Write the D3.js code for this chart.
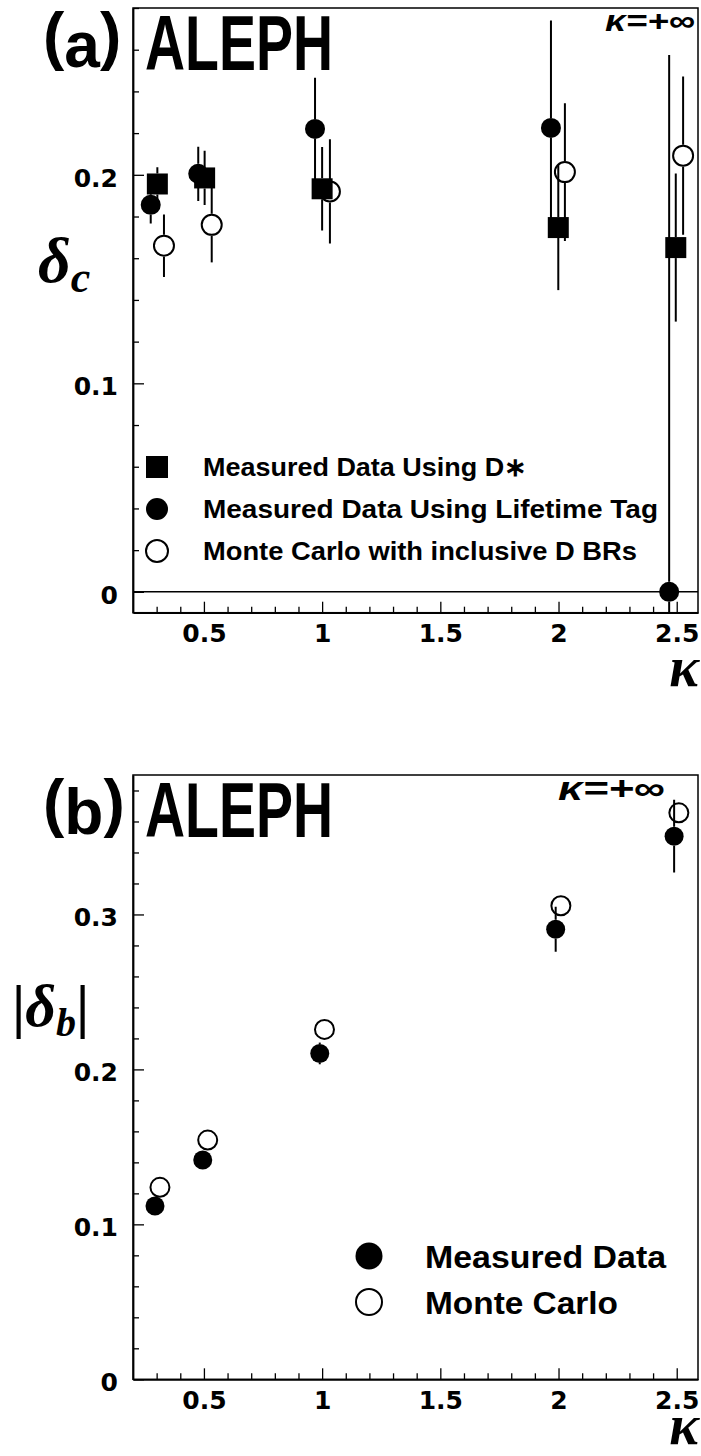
<!DOCTYPE html>
<html><head><meta charset="utf-8">
<script src="https://cdn.jsdelivr.net/npm/d3@7"></script>
<style>body{margin:0;background:#fff} svg{display:block}</style>
</head><body>
<svg id="c" width="701" height="1456"></svg>
<script>
// ---------- data ----------
const kappaMajor = [0.5, 1, 1.5, 2, 2.5];
const kappaLabels = ["0.5", "1", "1.5", "2", "2.5"];
// (a) delta_c
const dstarX   = [0.303, 0.503, 1.000, 1.999, 2.496];
const dstarY   = [0.1956, 0.1985, 0.1933, 0.1747, 0.1651];
const dstarErr = [0.008, 0.013, 0.020, 0.030, 0.0355];
const lifeX    = [0.275, 0.476, 0.970, 1.968, 2.468];
const lifeY    = [0.1856, 0.2005, 0.2220, 0.2225, 0.0];
const lifeErr  = [0.009, 0.013, 0.0245, 0.0515, 0.2575];
const mcaX     = [0.331, 0.533, 1.033, 2.027, 2.527];
const mcaY     = [0.166, 0.176, 0.192, 0.2013, 0.2092];
const mcaErr   = [0.015, 0.018, 0.025, 0.033, 0.038];
const yTicksA  = [0, 0.1, 0.2];
const yLabelsA = ["0", "0.1", "0.2"];
// (b) |delta_b|
const measX    = [0.293, 0.495, 0.990, 1.988, 2.489];
const measY    = [0.1118, 0.1415, 0.2103, 0.2905, 0.3505];
const measErr  = [0.003, 0.003, 0.007, 0.0145, 0.0235];
const mcbX     = [0.314, 0.516, 1.010, 2.010, 2.509];
const mcbY     = [0.1239, 0.1544, 0.2258, 0.3056, 0.3656];
const mcbErr   = [0.0, 0.0, 0.0, 0.0, 0.0];
const yTicksB  = [0, 0.1, 0.2, 0.3];
const yLabelsB = ["0", "0.1", "0.2", "0.3"];
const legendA  = ["Measured Data Using D\u2217", "Measured Data Using Lifetime Tag", "Monte Carlo with inclusive D BRs"];
const legendB  = ["Measured Data", "Monte Carlo"];

// ---------- drawing ----------
const svg = d3.select("#c");
const x = d3.scaleLinear().domain([0.2, 2.59]).range([133, 698]);
const SANS = "'Liberation Sans', Arial, sans-serif";
const TICKF = "'DejaVu Sans', sans-serif";
const SERIF = "'Liberation Serif', 'Times New Roman', serif";

function zip(xs, ys, es) { return xs.map((v, i) => ({x: v, y: ys[i], e: es[i]})); }

function panel(cfg) {
  const y = d3.scaleLinear().domain(cfg.yDomain).range([cfg.bottom, cfg.top]);
  const g = svg.append("g");
  const [x0, x1] = x.range();
  const clipId = cfg.id + "clip";
  svg.append("clipPath").attr("id", clipId).append("rect")
    .attr("x", x0).attr("y", cfg.top).attr("width", x1 - x0).attr("height", cfg.bottom - cfg.top);

  // frame
  g.append("rect").attr("x", x0).attr("y", cfg.top).attr("width", x1 - x0).attr("height", cfg.bottom - cfg.top)
    .attr("fill", "none").attr("stroke", "#000").attr("stroke-width", 1.5);

  // x axis minor + major
  const xMinor = d3.range(0.3, 2.59, 0.1).filter(v => Math.abs(v * 2 - Math.round(v * 2)) > 1e-6);
  g.append("g").attr("transform", `translate(0,${cfg.bottom})`)
    .call(d3.axisBottom(x).tickValues(xMinor).tickFormat("").tickSizeInner(-6).tickSizeOuter(0))
    .call(s => s.select(".domain").remove())
    .call(s => s.selectAll("line").attr("stroke-width", 1.3));
  g.append("g").attr("transform", `translate(0,${cfg.bottom})`)
    .call(d3.axisBottom(x).tickValues(kappaMajor).tickFormat((d, i) => kappaLabels[i]).tickSizeInner(-11).tickSizeOuter(0).tickPadding(11.5))
    .call(s => s.select(".domain").attr("stroke-width", 1.8))
    .call(s => s.selectAll("line").attr("stroke-width", 1.3))
    .attr("font-size", 25).attr("font-family", TICKF).attr("font-weight", "bold");

  // y axis minor + major
  const yMinor = d3.range(0, cfg.yDomain[1] + 1e-9, 0.02).filter(v => Math.abs(v * 10 - Math.round(v * 10)) > 1e-6);
  g.append("g").attr("transform", `translate(${x0},0)`)
    .call(d3.axisLeft(y).tickValues(yMinor).tickFormat("").tickSizeInner(-6).tickSizeOuter(0))
    .call(s => s.select(".domain").remove())
    .call(s => s.selectAll("line").attr("stroke-width", 1.3));
  g.append("g").attr("transform", `translate(${x0},0)`)
    .call(d3.axisLeft(y).tickValues(cfg.yTicks).tickFormat((d, i) => cfg.yLabels[i]).tickSizeInner(-11).tickSizeOuter(0).tickPadding(15))
    .call(s => s.select(".domain").attr("stroke-width", 1.8))
    .call(s => s.selectAll("line").attr("stroke-width", 1.3))
    .call(s => s.selectAll("text").attr("dy", "0.45em"))
    .attr("font-size", 25).attr("font-family", TICKF).attr("font-weight", "bold");

  const plot = g.append("g").attr("clip-path", `url(#${clipId})`);
  if (cfg.zeroLine) {
    plot.append("line").attr("x1", x0).attr("x2", x1).attr("y1", y(0)).attr("y2", y(0))
      .attr("stroke", "#000").attr("stroke-width", 1.5);
  }

  // series
  cfg.series.forEach(s => {
    const pts = zip(s.x, s.y, s.e);
    const r = s.r;
    pts.forEach(p => {
      const cx = x(p.x), cy = y(p.y);
      const yt = y(p.y + p.e), yb = y(p.y - p.e);
      if (cy - r > yt) plot.append("line").attr("x1", cx).attr("x2", cx).attr("y1", yt).attr("y2", cy - r)
        .attr("stroke", "#000").attr("stroke-width", 2);
      if (yb > cy + r) plot.append("line").attr("x1", cx).attr("x2", cx).attr("y1", cy + r).attr("y2", yb)
        .attr("stroke", "#000").attr("stroke-width", 2);
    });
    if (s.shape === "square") {
      plot.selectAll(null).data(pts).join("rect")
        .attr("x", p => x(p.x) - r).attr("y", p => y(p.y) - r).attr("width", 2 * r).attr("height", 2 * r)
        .attr("fill", "#000");
    } else {
      plot.selectAll(null).data(pts).join("circle")
        .attr("cx", p => x(p.x)).attr("cy", p => y(p.y)).attr("r", s.open ? r - 1 : r)
        .attr("fill", s.open ? "none" : "#000").attr("stroke", "#000").attr("stroke-width", s.open ? 2 : 0);
    }
  });

  // legend
  cfg.legend.forEach(L => {
    const ly = L.y;
    if (L.shape === "square") {
      g.append("rect").attr("x", L.mx - L.r).attr("y", ly - L.r).attr("width", 2 * L.r).attr("height", 2 * L.r).attr("fill", "#000");
    } else {
      g.append("circle").attr("cx", L.mx).attr("cy", ly).attr("r", L.open ? L.r - 1 : L.r)
        .attr("fill", L.open ? "none" : "#000").attr("stroke", "#000").attr("stroke-width", L.open ? 2 : 0);
    }
    g.append("text").attr("x", L.tx).attr("y", ly + L.fs * 0.36).text(L.text)
      .attr("font-family", SANS).attr("font-weight", "bold").attr("font-size", L.fs)
      .attr("textLength", L.w).attr("lengthAdjust", "spacingAndGlyphs");
  });

  // panel label + ALEPH
  const t = g.append("text").attr("x", 43).attr("y", cfg.top + 50).attr("font-family", SANS)
    .attr("font-weight", "bold").attr("font-size", 64);
  t.append("tspan").text("(");
  t.append("tspan").attr("dy", 9).text(cfg.letter);
  t.append("tspan").attr("dy", -9).text(")");
  g.append("text").attr("x", 145).attr("y", cfg.aleph).text("ALEPH")
    .attr("font-family", SANS).attr("font-weight", "bold").attr("font-size", 78)
    .attr("textLength", 188).attr("lengthAdjust", "spacingAndGlyphs");

  // kappa = +inf
  g.append("text").attr("x", cfg.inf.x).attr("y", cfg.inf.y).text("\u03BA=+\u221E")
    .attr("font-family", SANS).attr("font-weight", "bold").attr("font-style", "italic").attr("font-size", cfg.inf.fs)
    .attr("textLength", cfg.inf.w).attr("lengthAdjust", "spacingAndGlyphs");

  // x axis title
  g.append("text").attr("x", 699).attr("y", cfg.bottom + cfg.kdy).attr("text-anchor", "end").text("\u03BA")
    .attr("font-family", SERIF).attr("font-weight", "bold").attr("font-style", "italic").attr("font-size", 56);

  cfg.ytitle(g);
  return y;
}

panel({
  id: "a", top: 8, bottom: 612.7, yDomain: [-0.01, 0.28], yTicks: yTicksA, yLabels: yLabelsA, zeroLine: true,
  letter: "a", aleph: 70, kdy: 73,
  inf: {x: 605, y: 31, fs: 30, w: 90},
  series: [
    {x: lifeX, y: lifeY, e: lifeErr, shape: "circle", open: false, r: 10},
    {x: dstarX, y: dstarY, e: dstarErr, shape: "square", r: 10.5},
    {x: mcaX, y: mcaY, e: mcaErr, shape: "circle", open: true, r: 11}
  ],
  legend: [
    {shape: "square", mx: 157, y: 467, r: 11, tx: 203, text: legendA[0], fs: 26, w: 324},
    {shape: "circle", mx: 157, y: 509, r: 11, tx: 203, text: legendA[1], fs: 26, w: 455},
    {shape: "circle", open: true, mx: 157, y: 551, r: 12, tx: 203, text: legendA[2], fs: 26, w: 434}
  ],
  ytitle: g => {
    const t = g.append("text").attr("x", 38).attr("y", 282).attr("font-family", SERIF)
      .attr("font-weight", "bold").attr("font-style", "italic").attr("font-size", 64);
    t.append("tspan").text("\u03B4");
    t.append("tspan").attr("dy", 10).attr("font-size", 44).text("c");
  }
});

panel({
  id: "b", top: 775, bottom: 1379.3, yDomain: [0, 0.39], yTicks: yTicksB, yLabels: yLabelsB, zeroLine: false,
  letter: "b", aleph: 837, kdy: 65,
  inf: {x: 558, y: 800, fs: 34, w: 107},
  series: [
    {x: measX, y: measY, e: measErr, shape: "circle", open: false, r: 9.5},
    {x: mcbX, y: mcbY, e: mcbErr, shape: "circle", open: true, r: 10.5}
  ],
  legend: [
    {shape: "circle", mx: 369, y: 1256, r: 13.5, tx: 425, text: legendB[0], fs: 32, w: 241},
    {shape: "circle", open: true, mx: 369, y: 1302, r: 14, tx: 425, text: legendB[1], fs: 32, w: 193}
  ],
  ytitle: g => {
    const t = g.append("text").attr("x", 12).attr("y", 1026).attr("font-family", SERIF)
      .attr("font-weight", "bold").attr("font-size", 60);
    t.append("tspan").text("|");
    t.append("tspan").attr("font-style", "italic").text("\u03B4");
    t.append("tspan").attr("dy", 10).attr("font-size", 40).attr("font-style", "italic").text("b");
    t.append("tspan").attr("dy", -10).text("|");
  }
});
</script>
</body></html>
